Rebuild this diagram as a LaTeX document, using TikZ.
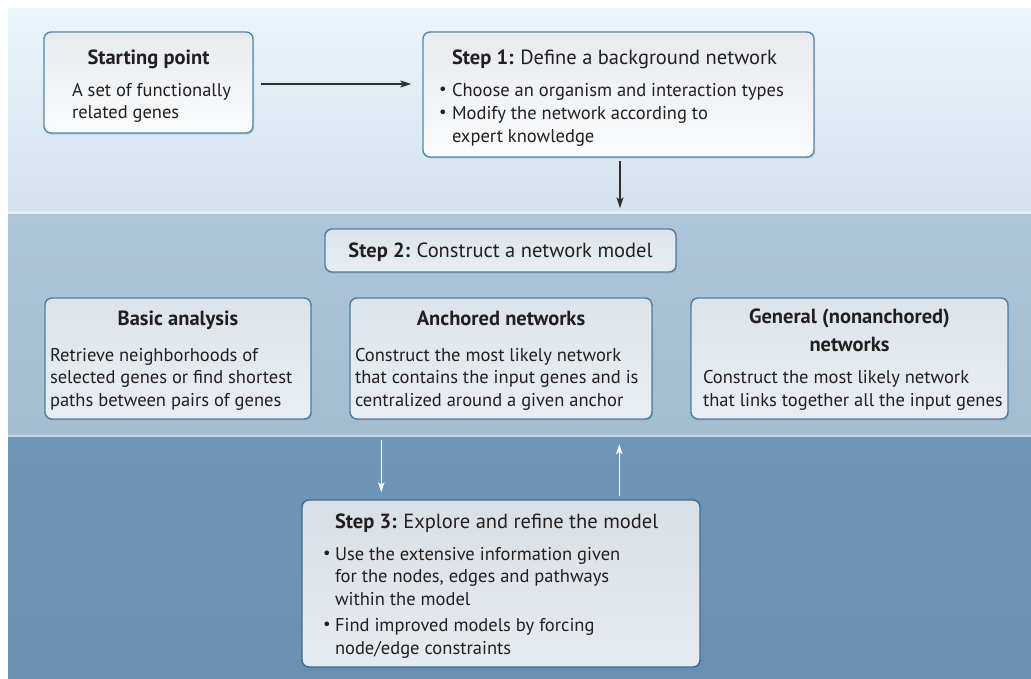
\documentclass[tikz,border=0pt]{standalone}
\usepackage{fontspec}
\setmainfont{PT Sans}
\usetikzlibrary{arrows.meta,shadows,calc}

\definecolor{ink}{HTML}{231F20}
\definecolor{bandAtop}{HTML}{EAF5FC}
\definecolor{bandAbot}{HTML}{D3E2EC}
\definecolor{bandBtop}{HTML}{ACC5D8}
\definecolor{bandBbot}{HTML}{A3BDD1}
\definecolor{bandCtop}{HTML}{6E96B7}
\definecolor{bandCbot}{HTML}{6890B2}
\definecolor{ruleup}{HTML}{E6EEF4}
\definecolor{rulelow}{HTML}{C9DAE6}
\definecolor{edgeA}{HTML}{5287AE}
\definecolor{edgeB}{HTML}{4C7EA3}
\definecolor{edgeC}{HTML}{3B6B90}
\definecolor{fillAtop}{HTML}{E7EBEE}
\definecolor{fillAbot}{HTML}{FAFCFD}
\definecolor{fillBtop}{HTML}{DCE4EB}
\definecolor{fillBbot}{HTML}{E8EEF3}
\definecolor{fillCtop}{HTML}{D8DFE6}
\definecolor{fillCbot}{HTML}{E6EBF0}
\definecolor{arrowdark}{HTML}{303030}

\newcommand{\bodyfont}{\fontsize{18.5}{22.5}\selectfont}
\newcommand{\headfont}{\fontsize{20.5}{24}\selectfont\bfseries}
\newcommand{\leadfont}{\fontsize{20.5}{24}\selectfont}
\newcommand{\lline}[2]{\makebox[#1][l]{#2}}
\newcommand{\bulletmark}[1]{\makebox[#1][l]{\raisebox{0.1em}{\scalebox{0.9}{\textbullet}}}}

\begin{document}
\begin{tikzpicture}[x=1pt,y=-1pt,
  panel/.style={draw=#1, line width=1.4pt, rounded corners=7pt, inner sep=0pt,
    drop shadow={opacity=0.28, shadow xshift=1.2pt, shadow yshift=-1.6pt}},
  boxA/.style={panel=edgeA, top color=fillAtop, bottom color=fillAbot},
  boxB/.style={panel=edgeB, top color=fillBtop, bottom color=fillBbot},
  boxC/.style={panel=edgeC, top color=fillCtop, bottom color=fillCbot},
  words/.style={inner sep=0pt, text=ink, font=\bodyfont, align=center},
  darkflow/.style={draw=arrowdark, line width=1.3pt,
    -{Stealth[length=11pt, width=7pt, inset=2.5pt]}},
  lightflow/.style={draw=white, line width=1.2pt,
    -{Stealth[length=10pt, width=6.5pt, inset=2.5pt]}}]

\useasboundingbox (0,0) rectangle (1031,679);

% three background bands and the light rules between them
\shade[top color=bandAtop, bottom color=bandAbot] (8,9) rectangle (1031,212);
\shade[top color=bandBtop, bottom color=bandBbot] (8,214) rectangle (1031,435);
\shade[top color=bandCtop, bottom color=bandCbot] (8,437) rectangle (1031,679);
\fill[ruleup] (8,211.5) rectangle (1031,214.5);
\fill[rulelow] (8,434.5) rectangle (1031,437);

% boxes
\node[boxA, minimum width=209pt, minimum height=101pt] (start) at (148.5,82.5) {};
\node[boxA, minimum width=391pt, minimum height=125pt] (step1) at (618.5,94.5) {};
\node[boxB, minimum width=351pt, minimum height=43pt]  (step2) at (500.5,250.5) {};
\node[boxB, minimum width=266pt, minimum height=121pt] (basic) at (178,358.5) {};
\node[boxB, minimum width=302pt, minimum height=121pt] (anch)  at (501,358.5) {};
\node[boxB, minimum width=317pt, minimum height=121pt] (gen)   at (849.5,358.5) {};
\node[boxC, minimum width=398pt, minimum height=167pt] (step3) at (501,583.5) {};

% box texts
\node[words] (start-text) at ($(start)+(0,3.7)$) {%
  {\headfont Starting point}\\[9.5pt]
  \lline{153pt}{A set of functionally}\\
  \lline{153pt}{related genes}};

\node[words] (step1-text) at ($(step1)+(0,3.5)$) {%
  \lline{359pt}{\hspace*{13pt}{\headfont Step 1:} {\leadfont Define a background network}}\\[9pt]
  \lline{359pt}{\bulletmark{13pt}Choose an organism and interaction types}\\[1pt]
  \lline{359pt}{\bulletmark{13pt}Modify the network according to}\\
  \lline{359pt}{\hspace*{13pt}expert knowledge}};

\node[words] (step2-text) at ($(step2)+(0,2)$) {%
  {\headfont Step 2:} {\leadfont Construct a network model}};

\node[words] (basic-text) at ($(basic)+(0,2)$) {%
  {\headfont Basic analysis}\\[13pt]
  \lline{256pt}{Retrieve neighborhoods of}\\
  \lline{256pt}{selected genes or find shortest}\\
  \lline{256pt}{paths between pairs of genes}};

\node[words] (anch-text) at ($(anch)+(0,2)$) {%
  {\headfont Anchored networks}\\[13pt]
  \lline{292pt}{Construct the most likely network}\\
  \lline{292pt}{that contains the input genes and is}\\
  \lline{292pt}{centralized around a given anchor}};

\node[words] (gen-text) at ($(gen)+(0,1)$) {%
  {\headfont General (nonanchored)}\\[5pt]
  {\headfont networks}\\[10pt]
  \lline{293pt}{Construct the most likely network}\\
  \lline{293pt}{that links together all the input genes}};

\node[words] (step3-text) at ($(step3)+(0,2.4)$) {%
  \lline{356pt}{\hspace*{12pt}{\headfont Step 3:} {\leadfont Explore and refine the model}}\\[9.5pt]
  \lline{356pt}{\bulletmark{12pt}Use the extensive information given}\\
  \lline{356pt}{\hspace*{12pt}for the nodes, edges and pathways}\\
  \lline{356pt}{\hspace*{12pt}within the model}\\[4pt]
  \lline{356pt}{\bulletmark{12pt}Find improved models by forcing}\\
  \lline{356pt}{\hspace*{12pt}node/edge constraints}};

% loose ends of the two light arrows in the bottom band
\coordinate (downtop) at ($(step3.north west)+(80,-59)$);
\coordinate (downtip) at ($(step3.north west)+(80,-7)$);
\coordinate (upfoot) at ($(step3.north west)+(318,-3)$);
\coordinate (uptip)   at ($(step3.north west)+(318,-55)$);

% connectors
\draw[darkflow] ([xshift=7pt,yshift=-1.5pt]start.east) -- ([xshift=-11pt,yshift=-1.5pt]step1.west |- start.east);
\draw[darkflow] ([xshift=1.5pt,yshift=-3pt]step1.south) -- ([xshift=1.5pt,yshift=20pt]step2.north -| step1.south);
\draw[lightflow] (downtop) -- (downtip);
\draw[lightflow] (upfoot) -- (uptip);

\end{tikzpicture}
\end{document}
